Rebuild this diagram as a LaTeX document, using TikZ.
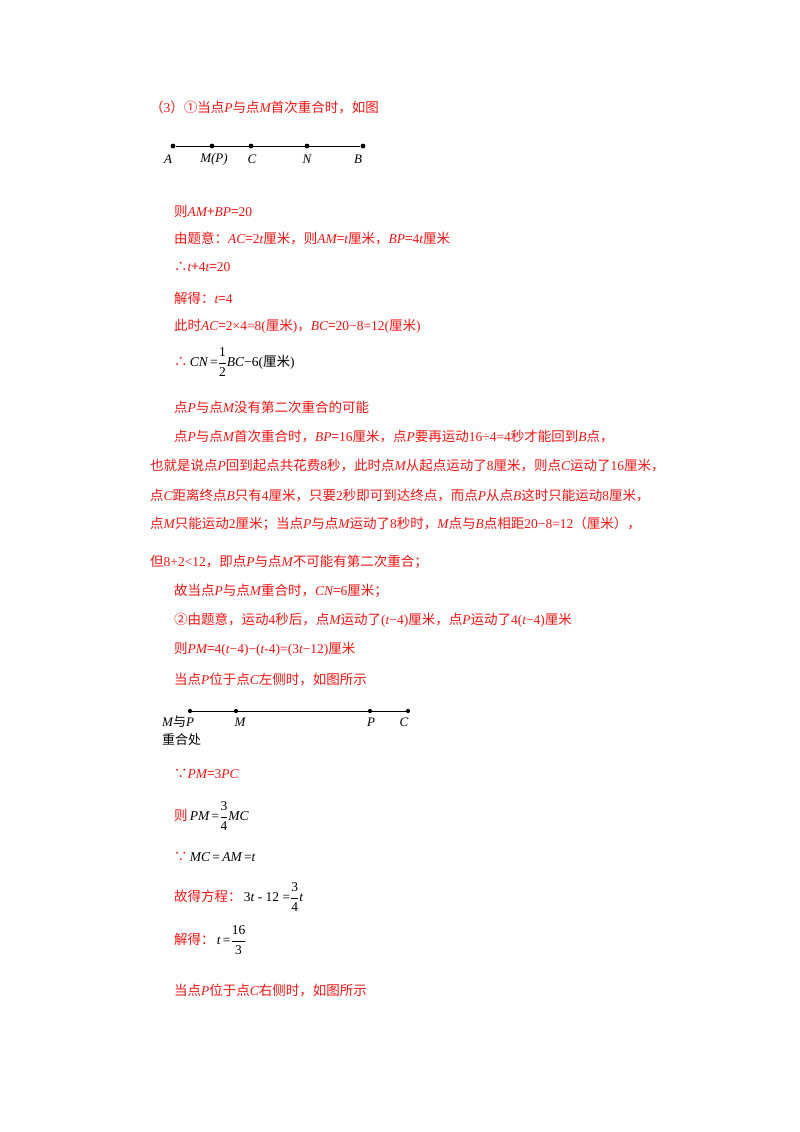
\documentclass[tikz,border=0pt]{standalone}
\usepackage{fontspec}
\setmainfont{Noto Sans CJK SC}
\newfontfamily\tms{Liberation Serif}
\newcommand\V[1]{{\tms\itshape #1}}
\newcommand\N[1]{{\tms #1}}
\newcommand\fr[2]{$\displaystyle\frac{\mbox{\tms #1}}{\mbox{\tms #2}}$}
\definecolor{rd}{RGB}{240,20,20}
\begin{document}
\begin{tikzpicture}[x=1pt,y=-1pt,
  t/.style={anchor=west,text=rd,font=\fontsize{13.5}{16}\selectfont,inner sep=0},
  lb/.style={font=\fontsize{13}{15}\selectfont\tms\itshape,inner sep=0},
  dot/.style={circle,fill=black,inner sep=1.7pt}]
\useasboundingbox (0,0) rectangle (800,1132);
% diagram 1
\foreach \n/\x in {A/173,M/212,C/251,N/307,B/363}{\node[dot] (d\n) at (\x,146) {};}
\draw[line width=1pt] (dA) -- (dB);
\node[lb] (lA) at (168,159) {A};
\node[lb] (lM) at (214,159) {M(P)};
\node[lb] (lC) at (252,159) {C};
\node[lb] (lN) at (307,159) {N};
\node[lb] (lB) at (358,159) {B};
% diagram 2
\foreach \n/\x in {a/190,b/236,c/370,d/408}{\node[dot,inner sep=1.5pt] (e\n) at (\x,711) {};}
\draw[line width=0.8pt] (ea) -- (ed);
\node[anchor=west,inner sep=0,font=\fontsize{13}{15}\selectfont] (l1) at (162,722) {\V{M}与\V{P}};
\node[anchor=west,inner sep=0,font=\fontsize{13}{15}\selectfont] (l2) at (162,740) {重合处};
\node[lb] (l3) at (240,722) {M};
\node[lb] (l4) at (371,722) {P};
\node[lb] (l5) at (404,722) {C};
% text
\node[t] (t1) at (150,107) {（\N{3}）①当点\V{P}与点\V{M}首次重合时，如图};
\node[t] (t2) at (174,211) {则\V{AM}+\V{BP}=\N{20}};
\node[t] (t3) at (174,238) {由题意：\V{AC}=\N{2}\V{t}厘米，则\V{AM}=\V{t}厘米，\V{BP}=\N{4}\V{t}厘米};
\node[t] (t4) at (174,267) {∴\V{t}+\N{4}\V{t}=\N{20}};
\node[t] (t5) at (174,298) {解得：\V{t}=\N{4}};
\node[t] (t6) at (174,326) {此时\V{AC}=\N{2×4=8(}厘米\N{)}，\V{BC}=\N{20−8=12(}厘米\N{)}};
\node[t] (t7) at (174,362) {∴\,\textcolor{black}{\V{CN}\,\N{=}\fr{1}{2}\V{BC}\N{−6(}厘米\N{)}}};
\node[t] (t8) at (174,407) {点\V{P}与点\V{M}没有第二次重合的可能};
\node[t] (t9) at (174,437) {点\V{P}与点\V{M}首次重合时，\V{BP}=\N{16}厘米，点\V{P}要再运动\N{16÷4=4}秒才能回到\V{B}点，};
\node[t] (t10) at (150,466) {也就是说点\V{P}回到起点共花费\N{8}秒，此时点\V{M}从起点运动了\N{8}厘米，则点\V{C}运动了\N{16}厘米，};
\node[t] (t11) at (150,495) {点\V{C}距离终点\V{B}只有\N{4}厘米，只要\N{2}秒即可到达终点，而点\V{P}从点\V{B}这时只能运动\N{8}厘米，};
\node[t] (t12) at (150,524) {点\V{M}只能运动\N{2}厘米；当点\V{P}与点\V{M}运动了\N{8}秒时，\V{M}点与\V{B}点相距\N{20−8=12}（厘米），};
\node[t] (t13) at (150,562) {但\N{8+2<12}，即点\V{P}与点\V{M}不可能有第二次重合；};
\node[t] (t14) at (174,591) {故当点\V{P}与点\V{M}重合时，\V{CN}=\N{6}厘米；};
\node[t] (t15) at (174,620) {②由题意，运动\N{4}秒后，点\V{M}运动了\N{(}\V{t}\N{−4)}厘米，点\V{P}运动了\N{4(}\V{t}\N{−4)}厘米};
\node[t] (t16) at (174,649) {则\V{PM}=\N{4(}\V{t}\N{−4)−(}\V{t}\N{-4)=(3}\V{t}\N{−12)}厘米};
\node[t] (t17) at (174,679) {当点\V{P}位于点\V{C}左侧时，如图所示};
\node[t] (t18) at (174,774) {∵\V{PM}=\N{3}\V{PC}};
\node[t] (t19) at (174,816) {则\,\textcolor{black}{\V{PM}\,\N{=}\fr{3}{4}\V{MC}}};
\node[t] (t20) at (174,857) {∵\,\textcolor{black}{\V{MC}\,\N{=}\,\V{AM}\,\N{=}\V{t}}};
\node[t] (t21) at (174,897) {故得方程：\,\textcolor{black}{\N{3}\V{t}\N{ - 12 =}\fr{3}{4}\V{t}}};
\node[t] (t22) at (174,940) {解得：\,\textcolor{black}{\V{t}\,\N{=}\fr{16}{3}}};
\node[t] (t23) at (174,990) {当点\V{P}位于点\V{C}右侧时，如图所示};
\end{tikzpicture}
\end{document}
